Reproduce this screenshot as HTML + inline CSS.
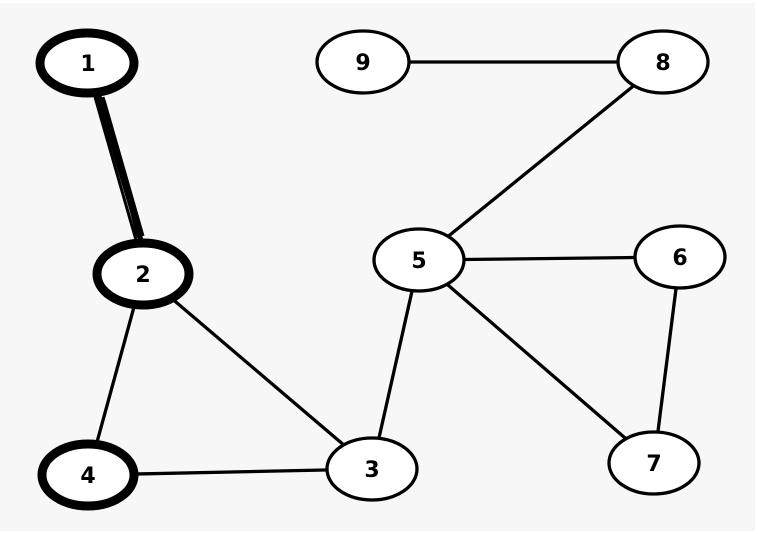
<!DOCTYPE html>
<html><head><style>
html,body{margin:0;padding:0;background:#fff;}
svg{display:block;}
text{font-family:"DejaVu Sans","Liberation Sans",sans-serif;font-weight:bold;font-size:22px;}
</style></head><body>
<svg width="758" height="534" viewBox="0 0 758 534">
<rect x="0" y="3" width="755" height="528" fill="#f7f7f7"/>
<g stroke="#000" stroke-width="3.3" fill="none">
<line x1="363" y1="62" x2="663" y2="62"/>
<line x1="663" y1="62" x2="419" y2="260"/>
<line x1="419" y1="260" x2="680" y2="257"/>
<line x1="419" y1="260" x2="654" y2="463"/>
<line x1="680" y1="257" x2="654" y2="463"/>
<line x1="419" y1="260" x2="372" y2="469"/>
<line x1="143" y1="274" x2="372" y2="469"/>
<line x1="143" y1="274" x2="88" y2="475"/>
<line x1="88" y1="475" x2="372" y2="469"/>
</g>
<g stroke="#000" stroke-width="3" fill="none">
<line x1="97" y1="96" x2="140" y2="240"/>
<line x1="100" y1="96" x2="142" y2="240"/>
<line x1="103" y1="97" x2="138" y2="238"/>
<line x1="95" y1="97" x2="136" y2="240"/>
<line x1="104" y1="100" x2="143" y2="236"/>
</g>
<g fill="#fff" stroke="#000">
<ellipse cx="87" cy="63" rx="47" ry="30" stroke-width="9"/>
<ellipse cx="143" cy="274" rx="46" ry="31" stroke-width="9"/>
<ellipse cx="88" cy="475" rx="46" ry="31" stroke-width="9"/>
<ellipse cx="363" cy="62" rx="46" ry="31" stroke-width="3.3"/>
<ellipse cx="663" cy="62" rx="45" ry="31" stroke-width="3.3"/>
<ellipse cx="419" cy="260" rx="45" ry="31" stroke-width="3.3"/>
<ellipse cx="680" cy="257" rx="45" ry="31" stroke-width="3.3"/>
<ellipse cx="654" cy="463" rx="45" ry="31" stroke-width="3.3"/>
<ellipse cx="372" cy="469" rx="45" ry="31" stroke-width="3.3"/>
</g>
<g text-anchor="middle" fill="#000">
<text x="88" y="71">1</text>
<text x="143" y="282">2</text>
<text x="88" y="483">4</text>
<text x="363" y="70">9</text>
<text x="663" y="70">8</text>
<text x="419" y="268">5</text>
<text x="680" y="265">6</text>
<text x="654" y="471">7</text>
<text x="372" y="477">3</text>
</g>
</svg>
</body></html>
